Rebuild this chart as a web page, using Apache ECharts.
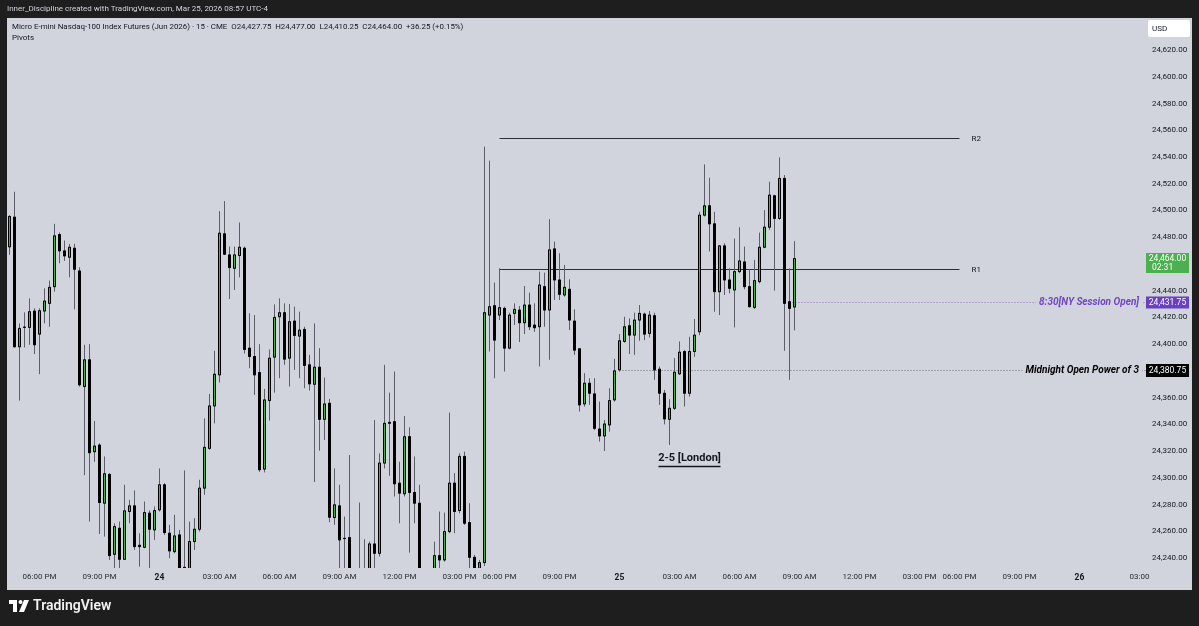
<!DOCTYPE html>
<html><head><meta charset="utf-8">
<script src="https://cdn.jsdelivr.net/npm/echarts@6/dist/echarts.min.js"></script>
<style>html,body{margin:0;padding:0;background:#1e1e1e;}#c{width:1199px;height:626px;}</style>
</head><body><div id="c"></div>
<script>
// ---- DATA ----
// 15-minute bars, Mar 23 15:30 .. Mar 25 08:45 (CME session, 17:00-18:00 break skipped); [open, high, low, close]
const candlesOHLC = [
[24472.75,24496.5,24466.75,24495.5],[24495,24514,24397.5,24398],[24398,24415.5,24357.75,24411.75],[24412.5,24423.75,24397.5,24412.75],
[24412.5,24434.25,24399.5,24424.25],[24424.75,24426.75,24392.5,24399.5],[24407.5,24426.75,24377.5,24425],[24424.75,24441.75,24415.5,24432.25],
[24430.5,24447.5,24413,24442.5],[24443,24490,24439.25,24481],[24482,24483.5,24460.5,24469.75],[24469.75,24477.5,24462.25,24466],
[24465,24475,24450,24472.5],[24471.75,24475,24426,24456],[24454.75,24457.5,24368.25,24369.5],[24368.25,24399.5,24302,24388.25],
[24388.25,24400,24267.25,24318.75],[24319.5,24342.5,24312,24323.75],[24324.5,24325.75,24258,24281.5],[24281,24316,24256,24303],
[24302.5,24303.5,24238.5,24241.75],[24242.75,24266,24232.25,24263.5],[24262.25,24267.25,24230,24239],[24239,24294.75,24238.5,24275.25],
[24274.75,24283.5,24266,24279],[24279,24290.5,24246,24248.5],[24249.5,24258.5,24233.5,24248.5],[24248,24282.25,24247.25,24274],
[24273.5,24275.5,24230,24261.5],[24261,24278.5,24253.5,24275.5],[24276,24307,24274.75,24294.75],[24294.75,24296,24257.25,24259],
[24258.5,24264.75,24239.75,24245.25],[24244.75,24272.25,24243.5,24256.5],[24257.25,24261,24228,24232.25],[24233,24305.5,24229,24232.5],
[24228,24267.25,24225,24252.25],[24252.25,24269.75,24246,24261.5],[24261.5,24298.5,24259.75,24292.25],[24292.25,24344.5,24287.25,24322.75],
[24322,24362.75,24321,24353.75],[24353.75,24395,24340.75,24377.5],[24377,24499.5,24371.25,24483],[24482.5,24507,24466.75,24467.25],
[24466.75,24473,24433.75,24457.25],[24456.75,24473,24440.5,24466.75],[24466.25,24491,24450,24472.5],[24471.75,24473,24393,24396],
[24397,24423,24382,24390.75],[24390.75,24421.75,24362,24377],[24378.75,24400,24304.5,24306],[24306.5,24366.5,24304,24358.25],
[24357.75,24396,24342.75,24389.5],[24390.25,24429.75,24363.75,24420],[24420.5,24434.25,24374.5,24423.5],[24423.5,24430.5,24384.5,24388.75],
[24389.5,24430,24368.25,24416.75],[24417.25,24428,24380.75,24406.5],[24406,24424.25,24374.5,24410.5],[24411,24413,24367,24384],
[24384.5,24392,24365.25,24370.25],[24370,24415.5,24296.75,24382.75],[24382.75,24397,24320.25,24343.75],[24343.75,24375,24328.25,24355.25],
[24355.75,24359,24266.75,24270.5],[24270.25,24307,24264.75,24279.75],[24279,24294.75,24232.25,24253.5],[24254.75,24271,24232.25,24254.5],
[24255.25,24317,24222,24228],[24230,24232,24220,24226],[24230,24281.5,24220,24226],[24224,24254,24220,24230],
[24228,24252.25,24224,24250.5],[24250.5,24343.25,24230,24243.5],[24243.5,24318.25,24241,24311],[24311,24384.5,24307,24340.75],
[24340.75,24363.75,24301.5,24341.5],[24342,24379.5,24286,24295.5],[24296,24312,24266,24288.5],[24288,24346.25,24286,24330.75],
[24330.75,24337.75,24244,24289],[24289,24316,24266,24281],[24281,24294.75,24225,24230],[24230,24232,24218,24222],
[24222,24231,24215,24228],[24229,24252.25,24226,24241.75],[24241.75,24274.75,24232.25,24238.5],[24238.5,24274,24237.25,24259.75],
[24259.75,24348.75,24258.5,24296],[24296,24303.5,24258.5,24274.75],[24275.5,24318.25,24273.5,24316],[24316,24319.5,24264.75,24266],
[24266.5,24281,24232.25,24240.5],[24240.5,24242.25,24229,24232.25],[24232.25,24238.5,24230,24236.5],[24236.5,24547.75,24234,24423.5],
[24421.75,24537.25,24394.5,24428],[24428.75,24446,24374.5,24403],[24421.75,24456.75,24418,24427.25],[24426.75,24428,24379.5,24397],
[24397,24423.5,24396,24421.75],[24423,24430.5,24414.25,24426],[24425.5,24428.5,24401.5,24416],[24416,24443.5,24407.5,24429.25],
[24429.25,24438.5,24410.5,24413],[24414.25,24430.5,24409.25,24412.25],[24413,24454.25,24383.25,24444.25],[24443,24453.5,24413,24425.5],
[24425.5,24493.5,24388.25,24470.5],[24471.25,24476.75,24433,24448],[24448,24468,24433,24437.25],[24436.75,24459.25,24435.5,24442.5],
[24441,24448.5,24410.5,24418],[24417.25,24426,24392,24395.5],[24396.5,24397,24349.5,24354.5],[24355.25,24378.25,24353.25,24370.75],
[24370.75,24374.5,24354.5,24363.25],[24362.75,24374.5,24335.75,24337],[24336.5,24357,24327,24331.25],[24331.25,24343.25,24320,24340.25],
[24339.5,24367,24334.5,24357.75],[24358.25,24389,24357,24380],[24380.75,24407.5,24379.5,24402.5],[24402,24420.5,24401,24413],
[24413.75,24419.25,24392.5,24406.75],[24406.75,24423.5,24392,24418],[24418,24429.25,24402.5,24423],[24422.5,24423.5,24403,24407.5],
[24408,24424.75,24405,24421.75],[24421.25,24423.5,24373.25,24380.75],[24381.25,24383.25,24354.5,24363.25],[24363.25,24365.75,24340,24344],
[24343.75,24358.75,24324.5,24352],[24352,24389.5,24350.75,24379],[24377.75,24402,24377,24394],[24394.5,24395.5,24353.25,24363.25],
[24363.25,24405.5,24360.75,24394.5],[24394.5,24418.75,24390.5,24406.75],[24409.25,24499,24406.75,24496.5],[24496.5,24534.5,24495.5,24503.5],
[24503.5,24524.5,24469.25,24490],[24490,24499,24424.25,24439.25],[24439.25,24474.25,24421.75,24473.5],[24473.5,24475.5,24436.75,24448],
[24448,24456.75,24438,24441.75],[24440.5,24479,24412.5,24454.25],[24454.25,24487.5,24453,24462.25],[24461.5,24473,24441,24443],
[24443,24456,24427.5,24428],[24427.5,24463,24426.25,24447.5],[24446.75,24483.5,24445.5,24472.5],[24472.5,24500.25,24471.75,24487.5],
[24487.5,24521.5,24485.5,24511.5],[24511,24511.75,24440,24494],[24494,24539.75,24493,24524],[24524,24526.5,24395,24430.5],
[24431.75,24456.75,24373.25,24426.75],[24427.75,24477,24410.25,24464]
];
const totalBars = 227;            // visible slots on the time axis (incl. future space)
const timeTickIndex  = [6,18,30,42,54,66,78,90,98,110,122,134,146,158,170,182,190,202,214,226];
const timeTickLabels = ['06:00 PM','09:00 PM','24','03:00 AM','06:00 AM','09:00 AM','12:00 PM','03:00 PM','06:00 PM','09:00 PM','25','03:00 AM','06:00 AM','09:00 AM','12:00 PM','03:00 PM','06:00 PM','09:00 PM','26','03:00'];
const dayLabels = ['24','25','26'];
const priceTicks = [24240,24260,24280,24300,24320,24340,24360,24400,24420,24440,24480,24500,24520,24540,24560,24580,24600,24620];
const priceMin = 24232.5, priceMax = 24642.5;
const pivotLevels = [{name:'R1', value:24456.0}, {name:'R2', value:24554.0}];
const pivotRange = [98, 190];     // bar indices: Mar 24 18:00 .. Mar 25 18:00
const midnightOpen = {value:24380.75, bar:122, label:'Midnight Open Power of 3'};
const nyOpen = {value:24431.75, bar:156, label:'8:30[NY Session Open]'};
const londonNote = {bar:136, value:24314.5, text:'2-5 [London]'};
const countdown = '02:31';

// ---- BUILD ----
const categories = [];
(function(){ let d=23, m=15*60+30;
  for (let k=0;k<totalBars;k++){ const h=Math.floor(m/60), mi=m%60;
    categories.push('Mar '+d+' '+String(h).padStart(2,'0')+':'+String(mi).padStart(2,'0'));
    m+=15; if (m===17*60) m=18*60; if (m>=1440){m-=1440; d++;} } })();
const tickMap = {}; timeTickIndex.forEach((ix,k)=>tickMap[ix]=timeTickLabels[k]);
const wickData = candlesOHLC.map(c=>[c[0],c[3],c[2],c[1]]);
const bodyData = candlesOHLC.map(c=>[c[0],c[3],Math.min(c[0],c[3]),Math.max(c[0],c[3])]);
function fmt(v){ const s=v.toFixed(2); const [a,b]=s.split('.'); return a.replace(/\B(?=(\d{3})+(?!\d))/g,',')+'.'+b; }
const last = candlesOHLC[candlesOHLC.length-1];
const FONT = 'Roboto, "Liberation Sans", Arial, sans-serif';
const BG = '#d1d4dc';

const chart = echarts.init(document.getElementById('c'), null, {renderer:'canvas'});
const option = {
  animation:false,
  backgroundColor:'#1e1e1e',
  textStyle:{fontFamily:FONT},
  grid:{left:7, top:20, width:1135, height:548, containLabel:false},
  xAxis:{type:'category', data:categories, boundaryGap:true, z:20,
    axisLine:{show:false}, axisTick:{show:false}, splitLine:{show:false},
    axisLabel:{interval:(i)=>tickMap[i]!==undefined, margin:5, fontSize:8, color:'#2a2e39', fontFamily:FONT,
      formatter:(v,i)=>{ const t=tickMap[i]; if(t===undefined) return ''; return dayLabels.includes(t)?'{b|'+t+'}':t; },
      rich:{b:{fontWeight:'bold', fontSize:8.5, color:'#131722', fontFamily:FONT}}}},
  yAxis:{type:'value', position:'right', min:priceMin, max:priceMax, scale:true, z:20,
    axisLine:{show:false}, axisTick:{show:false}, splitLine:{show:false},
    axisLabel:{customValues:priceTicks, margin:10, fontSize:8, color:'#131722', fontFamily:FONT, formatter:(v)=>fmt(v)}},
  series:[
    {type:'candlestick', name:'wicks', data:wickData, barWidth:3, clip:true, silent:true, z:2,
      itemStyle:{color:'rgba(0,0,0,0)', color0:'rgba(0,0,0,0)', borderColor:'#5c5f68', borderColor0:'#5c5f68', borderColorDoji:'#5c5f68', borderWidth:1}},
    {type:'candlestick', name:'bodies', data:bodyData, barWidth:3, clip:true, silent:true, z:3,
      itemStyle:{color:'#4caf50', color0:'#000000', borderColor:'#000000', borderColor0:'#000000', borderColorDoji:'#000000', borderWidth:1}}
  ]
};
chart.setOption(option);

const yPx = v => chart.convertToPixel({yAxisIndex:0}, v);
const xPx = i => chart.convertToPixel({xAxisIndex:0}, i);
const gridBottom = yPx(priceMin);
const g = [];
// panel
g.push({type:'rect', z:-5, shape:{x:7, y:18, width:1185, height:572}, style:{fill:BG}});
// cover overflow below the plot area (keeps candles clipped at the pane bottom)
g.push({type:'rect', z:8, shape:{x:7, y:gridBottom, width:1135, height:590-gridBottom}, style:{fill:BG}});
// header
g.push({type:'text', z:10, style:{text:'Inner_Discipline created with TradingView.com, Mar 25, 2026 08:57 UTC-4', x:7, y:9, textVerticalAlign:'middle', fill:'#d1d4dc', font:'8px '+FONT}});
const title = 'Micro E-mini Nasdaq-100 Index Futures (Jun 2026) · 15 · CME  O'+fmt(last[0])+'  H'+fmt(last[1])+'  L'+fmt(last[2])+'  C'+fmt(last[3])+'  +36.25 (+0.15%)';
g.push({type:'text', z:10, style:{text:title, x:12, y:27, textVerticalAlign:'middle', fill:'#131722', font:'7.9px '+FONT}});
g.push({type:'text', z:10, style:{text:'Pivots', x:12, y:38, textVerticalAlign:'middle', fill:'#131722', font:'8px '+FONT}});
// USD box
g.push({type:'rect', z:10, shape:{x:1148, y:20, width:42, height:17, r:2}, style:{fill:'#ffffff'}});
g.push({type:'text', z:11, style:{text:'USD', x:1152, y:28.5, textVerticalAlign:'middle', fill:'#131722', font:'8px '+FONT}});
// pivots
pivotLevels.forEach(p=>{
  const y=Math.round(yPx(p.value))+0.5;
  g.push({type:'line', z:1, shape:{x1:xPx(pivotRange[0]), y1:y, x2:xPx(pivotRange[1]), y2:y}, style:{stroke:'#2a2e39', lineWidth:1}});
  g.push({type:'text', z:10, style:{text:p.name, x:xPx(pivotRange[1])+12, y:y, textVerticalAlign:'middle', fill:'#131722', font:'8px '+FONT}});
});
// midnight open
(function(){ const y=Math.round(yPx(midnightOpen.value))+0.5;
  g.push({type:'line', z:1, shape:{x1:xPx(midnightOpen.bar), y1:y, x2:1146, y2:y}, style:{stroke:'#6a6d75', lineWidth:1, lineDash:[1,2]}});
  g.push({type:'text', z:10, style:{text:midnightOpen.label, x:1142, y:y, textAlign:'right', textVerticalAlign:'middle', fill:'#000000', font:'italic bold 10px '+FONT, backgroundColor:BG, padding:[1,3,1,3]}});
  g.push({type:'rect', z:10, shape:{x:1146, y:y-6.5, width:43, height:13}, style:{fill:'#000000'}});
  g.push({type:'text', z:11, style:{text:fmt(midnightOpen.value), x:1167.5, y:y, textAlign:'center', textVerticalAlign:'middle', fill:'#ffffff', font:'8.5px '+FONT}});
})();
// NY open
(function(){ const y=Math.round(yPx(nyOpen.value))+0.5;
  g.push({type:'line', z:1, shape:{x1:xPx(nyOpen.bar), y1:y, x2:1146, y2:y}, style:{stroke:'#9575cd', lineWidth:1, lineDash:[1,2]}});
  g.push({type:'text', z:10, style:{text:nyOpen.label, x:1142, y:y, textAlign:'right', textVerticalAlign:'middle', fill:'#7046c4', font:'italic bold 10px '+FONT, backgroundColor:BG, padding:[1,3,1,3]}});
  g.push({type:'rect', z:10, shape:{x:1146, y:y-6, width:43, height:12}, style:{fill:'#6a3fc0'}});
  g.push({type:'text', z:11, style:{text:fmt(nyOpen.value), x:1167.5, y:y, textAlign:'center', textVerticalAlign:'middle', fill:'#ffffff', font:'8.5px '+FONT}});
})();
// last price tag
(function(){ const y=yPx(last[3]);
  g.push({type:'rect', z:10, shape:{x:1146, y:y-5.5, width:43, height:20}, style:{fill:'#4caf50'}});
  g.push({type:'text', z:11, style:{text:fmt(last[3]), x:1167.5, y:y, textAlign:'center', textVerticalAlign:'middle', fill:'#ffffff', font:'8.5px '+FONT}});
  g.push({type:'text', z:11, style:{text:countdown, x:1152, y:y+9, textVerticalAlign:'middle', fill:'#ffffff', font:'8.5px '+FONT}});
})();
// London note
(function(){ const x=xPx(londonNote.bar), y=yPx(londonNote.value);
  g.push({type:'text', z:10, style:{text:londonNote.text, x:x, y:y, textAlign:'center', textVerticalAlign:'middle', fill:'#131722', font:'bold 11px '+FONT}});
  g.push({type:'line', z:10, shape:{x1:x-31, y1:Math.round(y+8)+0.5, x2:x+31, y2:Math.round(y+8)+0.5}, style:{stroke:'#131722', lineWidth:1.5}});
})();
// TradingView logo
g.push({type:'rect', z:10, shape:{x:9, y:600, width:8, height:4}, style:{fill:'#ffffff'}});
g.push({type:'rect', z:10, shape:{x:13, y:600, width:4, height:12}, style:{fill:'#ffffff'}});
g.push({type:'circle', z:10, shape:{cx:20.5, cy:602, r:2}, style:{fill:'#ffffff'}});
g.push({type:'polygon', z:10, shape:{points:[[24,600],[29,600],[24,612],[19,612]]}, style:{fill:'#ffffff'}});
g.push({type:'text', z:10, style:{text:'TradingView', x:33, y:606, textVerticalAlign:'middle', fill:'#f2f2f2', font:'600 14px '+FONT}});
chart.setOption({graphic:{elements:g}});
</script></body></html>
